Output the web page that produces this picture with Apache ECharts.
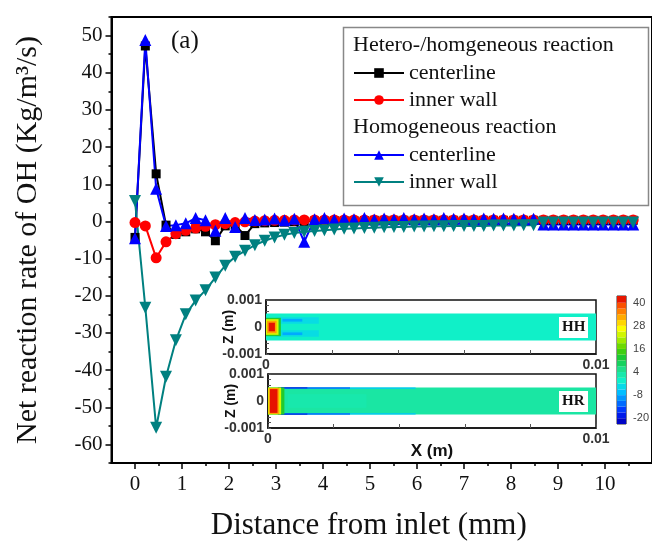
<!DOCTYPE html>
<html><head><meta charset="utf-8">
<script src="https://cdn.jsdelivr.net/npm/echarts@6/dist/echarts.min.js"></script>
<style>html,body{margin:0;padding:0;background:#fff}#c{width:652px;height:548px}</style>
</head><body><div id="c"></div>
<script>
// ---- data ----
const distance = [0, 0.22, 0.45, 0.66, 0.87, 1.08, 1.29, 1.50, 1.71, 1.92, 2.13, 2.34, 2.55, 2.76, 2.97, 3.18, 3.39, 3.60, 3.82, 4.03, 4.24, 4.45, 4.66, 4.88, 5.09, 5.30, 5.51, 5.72, 5.94, 6.15, 6.36, 6.57, 6.78, 7.00, 7.21, 7.42, 7.63, 7.84, 8.06, 8.27, 8.48, 8.69, 8.90, 9.12, 9.33, 9.54, 9.75, 9.96, 10.18, 10.39, 10.60];
const heteroCenter = [-4.3, 47.2, 12.8, -1.0, -3.5, -2.8, -2.0, -2.8, -5.2, -1.2, -1.0, -3.8, -0.6, -0.4, -0.3, -0.2, -0.1, 0, 0.1, 0.1, 0.2, 0.2, 0.2, 0.2, 0.3, 0.3, 0.3, 0.3, 0.3, 0.3, 0.3, 0.3, 0.3, 0.3, 0.3, 0.3, 0.3, 0.3, 0.3, 0.3, 0.3, 0.3, 0.3, 0.3, 0.3, 0.3, 0.3, 0.3, 0.3, 0.3, 0.3];
const heteroWall = [-0.3, -1.2, -9.8, -5.5, -3.3, -2.4, -1.8, -1.3, -0.9, -0.6, -0.3, -0.1, 0.1, 0.2, 0.3, 0.3, 0.4, 0.4, 0.4, 0.4, 0.4, 0.4, 0.4, 0.4, 0.4, 0.4, 0.4, 0.4, 0.4, 0.4, 0.4, 0.4, 0.4, 0.4, 0.4, 0.4, 0.4, 0.4, 0.4, 0.4, 0.4, 0.4, 0.4, 0.4, 0.4, 0.4, 0.4, 0.4, 0.4, 0.4, 0.4];
const homoCenter = [-4.5, 48.8, 8.8, -1.2, -1.0, -0.5, 0.9, 0.3, -2.5, 0.9, -1.5, 0.9, 0.4, 0.5, 0.8, 0.3, 0.7, -5.5, 0.6, 0.9, 0.5, 0.8, 0.6, 0.9, 0.5, 0.8, 0.6, 0.9, 0.6, 0.8, 0.6, 0.9, 0.7, 0.8, 0.6, 0.8, 0.7, 0.8, 0.7, 0.6, 0.7, -0.8, -0.8, -0.8, -0.8, -0.8, -0.8, -0.8, -0.8, -0.8, -0.8];
const homoWall = [5.5, -23.2, -55.5, -41.8, -32.0, -25.0, -21.3, -18.5, -15.1, -11.9, -9.5, -7.9, -6.4, -5.2, -4.3, -3.6, -3.1, -2.8, -2.6, -2.4, -2.2, -2.0, -1.9, -1.8, -1.7, -1.6, -1.5, -1.5, -1.4, -1.4, -1.3, -1.3, -1.2, -1.2, -1.2, -1.2, -1.1, -1.1, -1.1, -1.0, -1.0, -0.3, -0.3, -0.3, -0.3, -0.3, -0.3, -0.3, -0.3, -0.3, -0.3];
const xTickLabels = [0, 1, 2, 3, 4, 5, 6, 7, 8, 9, 10];
const xMinorTicks = [0.5, 1.5, 2.5, 3.5, 4.5, 5.5, 6.5, 7.5, 8.5, 9.5, 10.5];
const yTickLabels = [-60, -50, -40, -30, -20, -10, 0, 10, 20, 30, 40, 50];
const yMinorTicks = [-65, -55, -45, -35, -25, -15, -5, 5, 15, 25, 35, 45, 55];
// inset contour cells: [x0, x1, z0, z1, value]
const cellsHH = [
  [0, 0.01, -0.0005, 0.0005, -0.3],
  [0.0003, 0.0016, 0.00012, 0.00036, -3],
  [0.0003, 0.0016, -0.00036, -0.00012, -3],
  [0.0005, 0.0011, 0.0002, 0.0003, -8],
  [0.0005, 0.0011, -0.0003, -0.0002, -8],
  [0, 0.00045, -0.00034, 0.00034, 12],
  [0, 0.00038, -0.00029, 0.00029, 24],
  [0.00003, 0.00032, -0.00023, 0.00023, 33],
  [0.00008, 0.00027, -0.00016, 0.00016, 42]
];
const cellsHR = [
  [0, 0.01, -0.0005, 0.0005, 3.2],
  [0.0006, 0.003, -0.00025, 0.00025, 2.4],
  [0.0003, 0.0045, 0.00045, 0.0005, -6],
  [0.0003, 0.0045, -0.0005, -0.00045, -6],
  [0.0003, 0.0025, 0.00046, 0.0005, -15],
  [0.0003, 0.0025, -0.0005, -0.00046, -15],
  [0.0003, 0.0012, 0.00047, 0.0005, -21],
  [0.0003, 0.0012, -0.0005, -0.00047, -21],
  [0, 0.0005, -0.0005, 0.0005, 12],
  [0, 0.0004, -0.0005, 0.0005, 24],
  [0.00002, 0.00034, -0.00048, 0.00048, 33],
  [0.00006, 0.00029, -0.00044, 0.00044, 42]
];
const colorLevels = [-23, -20, -17, -14, -11, -8, -5, -2, 1, 4, 7, 10, 13, 16, 19, 22, 25, 28, 31, 34, 37, 40, 43.5];
const colorbarLabels = [-20, -8, 4, 16, 28, 40];

const colorbarCells = [];
for (let i = 0; i < colorLevels.length - 1; i++) {
  colorbarCells.push([0, 1, colorLevels[i], colorLevels[i + 1], (colorLevels[i] + colorLevels[i + 1]) / 2]);
}

const serif = 'Liberation Serif';
const sans = 'Liberation Sans';
const chart = echarts.init(document.getElementById('c'), null, {renderer: 'canvas'});

function rectItem(params, api) {
  const p0 = api.coord([api.value(0), api.value(3)]);
  const p1 = api.coord([api.value(1), api.value(2)]);
  return {
    type: 'rect',
    shape: {x: p0[0], y: p0[1], width: p1[0] - p0[0], height: p1[1] - p0[1]},
    style: {fill: api.visual('color')}
  };
}

const names = {
  'Hetero centerline': 'centerline', 'Hetero inner wall': 'inner wall',
  'Homo centerline': 'centerline', 'Homo inner wall': 'inner wall'
};

function pairs(ys) { return distance.map((x, i) => [x, ys[i]]); }

const insetAxisLabel = {fontFamily: sans, fontSize: 14, fontWeight: 'bold', color: '#333', margin: 4};
const insetXFmt = v => (v === 0 || Math.abs(v - 0.01) < 1e-9) ? String(v) : '';
const insetYFmt = v => (Math.abs(v) < 1e-9 ? '0' : (Math.abs(Math.abs(v) - 0.001) < 1e-9 ? String(v) : ''));

const option = {
  animation: false,
  grid: [
    {left: 111.5, top: 17, width: 544, height: 446, show: true, borderColor: '#000', borderWidth: 2},
    {left: 266, top: 300, width: 330, height: 54, show: true, borderColor: '#111', borderWidth: 1.5},
    {left: 268, top: 374, width: 328, height: 54, show: true, borderColor: '#111', borderWidth: 1.5},
    {left: 617, top: 296, width: 14, height: 128, show: true, borderColor: '#333', borderWidth: 1}
  ],
  xAxis: [
    {type: 'value', gridIndex: 0, min: -0.5, max: 11, position: 'bottom',
      name: 'Distance from inlet (mm)', nameLocation: 'middle', nameGap: 47, nameMoveOverlap: false,
      nameTextStyle: {fontFamily: serif, fontSize: 31, color: '#111', padding: [0, 26, 0, 0]},
      axisLine: {onZero: false, lineStyle: {color: '#000', width: 2}},
      axisTick: {customValues: xTickLabels, length: 6, lineStyle: {color: '#000', width: 1.5}},
      axisLabel: {customValues: xTickLabels, fontFamily: serif, fontSize: 21, color: '#111', margin: 11},
      splitLine: {show: false}},
    {type: 'value', gridIndex: 0, min: -0.5, max: 11, position: 'bottom',
      axisLine: {show: false, onZero: false}, axisLabel: {show: false}, splitLine: {show: false},
      axisTick: {customValues: xMinorTicks, length: 3, lineStyle: {color: '#000', width: 1.5}}},
    {type: 'value', gridIndex: 1, min: 0, max: 0.01, interval: 0.002,
      axisLine: {onZero: false, lineStyle: {color: '#111', width: 1.5}},
      axisTick: {inside: true, length: 4, lineStyle: {color: '#555'}},
      axisLabel: Object.assign({}, insetAxisLabel, {formatter: insetXFmt}),
      splitLine: {show: false}},
    {type: 'value', gridIndex: 2, min: 0, max: 0.01, interval: 0.002,
      name: 'X (m)', nameLocation: 'middle', nameGap: 15, nameMoveOverlap: false,
      nameTextStyle: {fontFamily: sans, fontSize: 17, fontWeight: 'bold', color: '#111'},
      axisLine: {onZero: false, lineStyle: {color: '#111', width: 1.5}},
      axisTick: {inside: true, length: 4, lineStyle: {color: '#555'}},
      axisLabel: Object.assign({}, insetAxisLabel, {formatter: insetXFmt}),
      splitLine: {show: false}},
    {type: 'value', gridIndex: 3, min: 0, max: 1, show: false}
  ],
  yAxis: [
    {type: 'value', gridIndex: 0, min: -65, max: 55, position: 'left',
      name: 'Net reaction rate of OH (Kg/m\u00B3/s)', nameLocation: 'middle', nameGap: 68, nameMoveOverlap: false,
      nameTextStyle: {fontFamily: serif, fontSize: 30, color: '#111'},
      axisLine: {onZero: false, lineStyle: {color: '#000', width: 2}},
      axisTick: {customValues: yTickLabels, length: 6, lineStyle: {color: '#000', width: 1.5}},
      axisLabel: {customValues: yTickLabels, fontFamily: serif, fontSize: 21, color: '#111', margin: 9},
      splitLine: {show: false}},
    {type: 'value', gridIndex: 0, min: -65, max: 55, position: 'left',
      axisLine: {show: false, onZero: false}, axisLabel: {show: false}, splitLine: {show: false},
      axisTick: {customValues: yMinorTicks, length: 3, lineStyle: {color: '#000', width: 1.5}}},
    {type: 'value', gridIndex: 1, min: -0.001, max: 0.001, interval: 0.0002,
      name: 'Z (m)', nameLocation: 'middle', nameGap: 30, nameMoveOverlap: false,
      nameTextStyle: {fontFamily: sans, fontSize: 14, fontWeight: 'bold', color: '#111'},
      axisLine: {onZero: false, lineStyle: {color: '#111', width: 1.5}},
      axisTick: {inside: true, length: 3, lineStyle: {color: '#555'}},
      axisLabel: Object.assign({}, insetAxisLabel, {formatter: insetYFmt}),
      splitLine: {show: false}},
    {type: 'value', gridIndex: 2, min: -0.001, max: 0.001, interval: 0.0002,
      name: 'Z (m)', nameLocation: 'middle', nameGap: 30, nameMoveOverlap: false,
      nameTextStyle: {fontFamily: sans, fontSize: 14, fontWeight: 'bold', color: '#111'},
      axisLine: {onZero: false, lineStyle: {color: '#111', width: 1.5}},
      axisTick: {inside: true, length: 3, lineStyle: {color: '#555'}},
      axisLabel: Object.assign({}, insetAxisLabel, {formatter: insetYFmt}),
      splitLine: {show: false}},
    {type: 'value', gridIndex: 3, min: -23, max: 43.5, position: 'right',
      axisLine: {show: false},
      axisTick: {show: false},
      axisLabel: {customValues: colorbarLabels, fontFamily: sans, fontSize: 11, color: '#444', margin: 7},
      splitLine: {show: false}}
  ],
  visualMap: {
    show: false, type: 'continuous', min: -22, max: 43, dimension: 4, seriesIndex: [4, 5, 6],
    inRange: {color: ['#0000c0', '#0028ff', '#0080ff', '#00c8ff', '#10f0c8', '#20e090', '#10c840', '#50d000', '#b0f000', '#ffff00', '#ffb000', '#ff6000', '#e00000']}
  },
  legend: [
    {data: ['Hetero centerline', 'Hetero inner wall'], orient: 'vertical', left: 353, top: 62, padding: 0,
      itemWidth: 50, itemHeight: 12, itemGap: 5, formatter: n => names[n],
      textStyle: {fontFamily: serif, fontSize: 22, color: '#111'}},
    {data: ['Homo centerline', 'Homo inner wall'], orient: 'vertical', left: 353, top: 144, padding: 0,
      itemWidth: 50, itemHeight: 12, itemGap: 5, formatter: n => names[n],
      textStyle: {fontFamily: serif, fontSize: 22, color: '#111'}}
  ],
  graphic: [
    {type: 'rect', left: 341, top: 25, shape: {width: 305, height: 178}, style: {fill: 'none', stroke: '#888', lineWidth: 1.5}, z: -1},
    {type: 'text', left: 353, top: 34, style: {text: 'Hetero-/homgeneous reaction', font: '22px "Liberation Serif"', fill: '#111'}},
    {type: 'text', left: 353, top: 116, style: {text: 'Homogeneous reaction', font: '22px "Liberation Serif"', fill: '#111'}},
    {type: 'text', left: 171, top: 29, style: {text: '(a)', font: '25px "Liberation Serif"', fill: '#111'}},
    {type: 'rect', left: 559, top: 317, z: 100, shape: {width: 29, height: 21}, style: {fill: '#fff'}},
    {type: 'text', left: 562, top: 320, z: 101, style: {text: 'HH', font: 'bold 15px "Liberation Serif"', fill: '#111'}},
    {type: 'rect', left: 559, top: 391, z: 100, shape: {width: 29, height: 21}, style: {fill: '#fff'}},
    {type: 'text', left: 562, top: 394, z: 101, style: {text: 'HR', font: 'bold 15px "Liberation Serif"', fill: '#111'}}
  ],
  series: [
    {name: 'Hetero centerline', type: 'line', xAxisIndex: 0, yAxisIndex: 0, data: pairs(heteroCenter),
      symbol: 'rect', symbolSize: 9, itemStyle: {color: '#000'}, lineStyle: {color: '#000', width: 2}},
    {name: 'Hetero inner wall', type: 'line', xAxisIndex: 0, yAxisIndex: 0, data: pairs(heteroWall),
      symbol: 'circle', symbolSize: 11, itemStyle: {color: '#ff0000'}, lineStyle: {color: '#ff0000', width: 2}},
    {name: 'Homo centerline', type: 'line', xAxisIndex: 0, yAxisIndex: 0, data: pairs(homoCenter),
      symbol: 'triangle', symbolSize: 12, itemStyle: {color: '#0000ff'}, lineStyle: {color: '#0000ff', width: 2}},
    {name: 'Homo inner wall', type: 'line', xAxisIndex: 0, yAxisIndex: 0, data: pairs(homoWall),
      symbol: 'triangle', symbolRotate: 180, symbolSize: 12, itemStyle: {color: '#008080'}, lineStyle: {color: '#008080', width: 2}},
    {type: 'custom', xAxisIndex: 2, yAxisIndex: 2, data: cellsHH, renderItem: rectItem, silent: true},
    {type: 'custom', xAxisIndex: 3, yAxisIndex: 3, data: cellsHR, renderItem: rectItem, silent: true},
    {type: 'custom', xAxisIndex: 4, yAxisIndex: 4, data: colorbarCells, renderItem: rectItem, silent: true}
  ]
};
chart.setOption(option);
</script>
</body></html>
